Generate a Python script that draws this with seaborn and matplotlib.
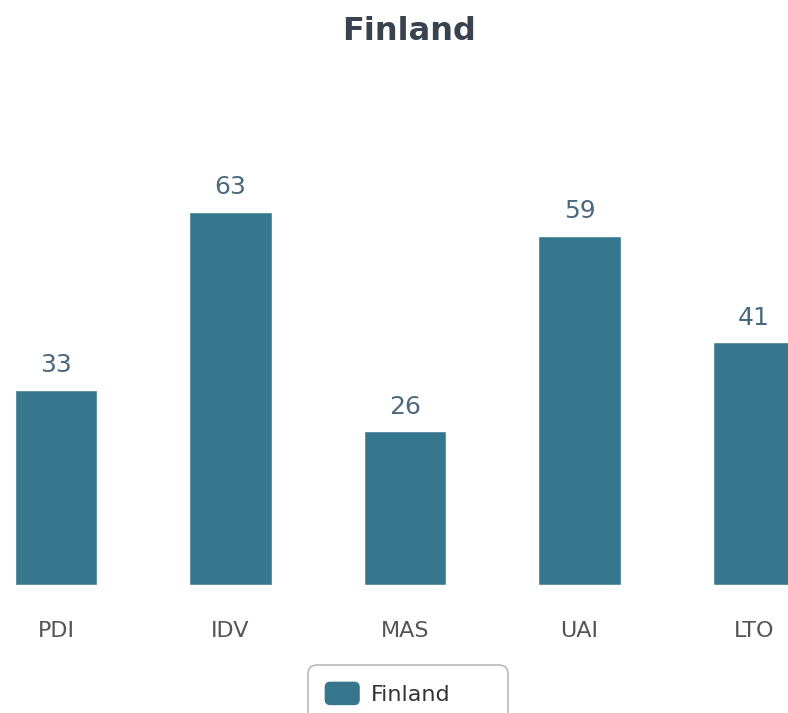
import pandas as pd
import seaborn as sns
import matplotlib.pyplot as plt
from matplotlib.patches import Patch, FancyBboxPatch
from matplotlib.legend_handler import HandlerPatch

# dados do gráfico
country = "Finland"
dimensions = ["PDI", "IDV", "MAS", "UAI", "LTO"]
scores = [33, 63, 26, 59, 41]

bar_color = "#37778d"
label_color = "#4b6a80"
tick_color = "#555555"
title_color = "#39424f"

df = pd.DataFrame({"Dimensão": dimensions, "Pontuação": scores, "País": country})

sns.set_theme(style="white")
plt.rcParams["font.family"] = ["DejaVu Sans"]

fig = plt.figure(figsize=(7.88, 7.13), dpi=100)
ax = fig.add_axes([0, 128 / 713, 1, 70 * 5.921 / 713])

sns.barplot(
    data=df, x="Dimensão", y="Pontuação", hue="País",
    palette=[bar_color], width=0.475, legend=False, ax=ax,
    saturation=1,
)

ax.bar_label(ax.containers[0], padding=9, fontsize=18, color=label_color)

ax.set_xlim(-0.321, 4.195)
ax.set_ylim(0, 70)
ax.set_xlabel("")
ax.set_ylabel("")
ax.set_yticks([])
ax.tick_params(axis="x", length=0, pad=26, labelsize=16, labelcolor=tick_color)
sns.despine(ax=ax, left=True, bottom=True)

fig.text(0.519, 1 - 32 / 713, country, ha="center", va="center",
         fontsize=23, fontweight="bold", color=title_color)


class RoundHandler(HandlerPatch):
    def create_artists(self, legend, orig_handle, xdescent, ydescent,
                       width, height, fontsize, trans):
        p = FancyBboxPatch((-xdescent, -ydescent), width, height,
                           boxstyle="round,pad=0,rounding_size=4",
                           fc=orig_handle.get_facecolor(), ec="none",
                           transform=trans)
        return [p]


handle = Patch(facecolor=bar_color, label=country)
leg = fig.legend(
    handles=[handle], loc="upper left",
    bbox_to_anchor=(308 / 788, 48 / 713, 200 / 788, 0),
    mode="expand", borderaxespad=0, borderpad=0.75,
    handlelength=1.58, handleheight=1.25, handletextpad=0.5,
    fontsize=16, frameon=True, fancybox=True,
    handler_map={Patch: RoundHandler()},
)
for t in leg.get_texts():
    t.set_color("#333333")
frame = leg.get_frame()
frame.set_edgecolor("#a8a8a8")
frame.set_linewidth(1.2)
frame.set_boxstyle("round", pad=0, rounding_size=0.4)

fig.savefig("out.png", dpi=100)
